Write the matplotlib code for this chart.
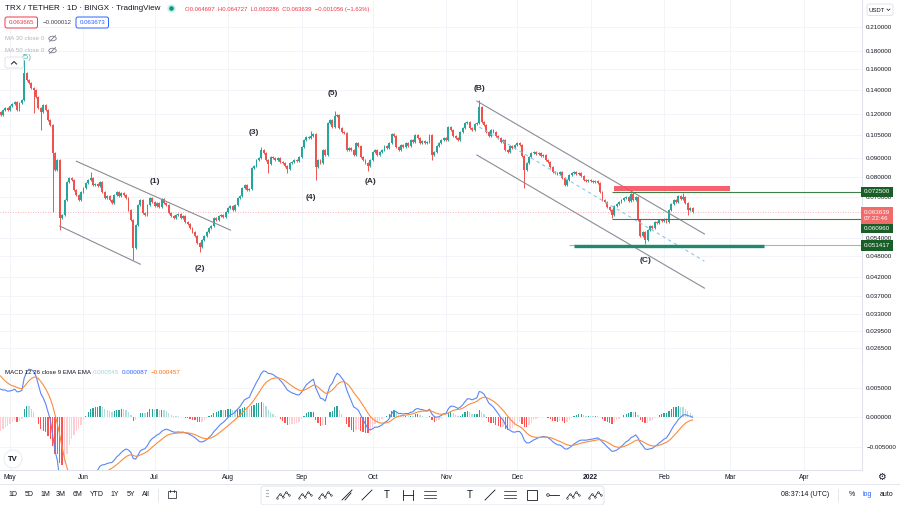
import numpy as np
import matplotlib
matplotlib.use("Agg")
import matplotlib.pyplot as plt
import matplotlib.dates as mdates
from matplotlib.ticker import FuncFormatter, NullLocator
from matplotlib.patches import FancyBboxPatch, Rectangle, Ellipse, Circle

plt.rcParams['font.family'] = ['Liberation Sans', 'DejaVu Sans']

# ---- data (TRX/USDT daily, BINGX) ----
first_day = '2021-04-27'
first_open = 0.1213
closes = [
    .1190, .1229, .1246, .1229, .1262, .1278, .1294, .1229, .1286, .1311,
    .1561, .1492, .1463, .1417, .1399, .1337, .1246, .1213, .1270, .1229,
    .1153, .1116, .0932, .0835, .0890, .0613, .0624, .0688, .0773, .0793,
    .0783, .0734, .0710, .0688, .0725, .0744, .0768, .0783, .0793, .0758,
    .0763, .0753, .0773, .0725, .0697, .0706, .0688, .0675, .0710, .0725,
    .0706, .0720, .0710, .0697, .0645, .0605, .0505, .0585, .0666, .0688,
    .0633, .0624, .0666, .0697, .0679, .0662, .0675, .0658, .0692, .0675,
    .0666, .0633, .0620, .0613, .0624, .0628, .0613, .0620, .0597, .0589,
    .0574, .0560, .0546, .0521, .0508, .0531, .0546, .0560, .0574, .0582,
    .0613, .0605, .0620, .0624, .0616, .0637, .0653, .0662, .0645, .0666,
    .0697, .0706, .0744, .0758, .0734, .0739, .0846, .0856, .0890, .0902,
    .0950, .0932, .0890, .0868, .0908, .0902, .0890, .0902, .0879, .0873,
    .0856, .0840, .0873, .0879, .0890, .0884, .0908, .0968, .1013, .1033,
    .1026, .1040, .1053, .0851, .0890, .0873, .0950, .0920, .1131, .1153,
    .1102, .1183, .1190, .1095, .1067, .1060, .0950, .0962, .0950, .0920,
    .0994, .0975, .0908, .0890, .0873, .0856, .0890, .0938, .0950, .0920,
    .0938, .0950, .0975, .0962, .0994, .1053, .1040, .0968, .0950, .0981,
    .0968, .0994, .0975, .1013, .1000, .1046, .1026, .0994, .1006, .0994,
    .1000, .1046, .0920, .0938, .0975, .0994, .1013, .1026, .1013, .1102,
    .1081, .1040, .1026, .1013, .1067, .1095, .1131, .1138, .1095, .1081,
    .1124, .1131, .1254, .1138, .1116, .1067, .1040, .1081, .1067, .1040,
    .1026, .1000, .1013, .0950, .0938, .0975, .0962, .0981, .0994, .0981,
    .0914, .0835, .0873, .0908, .0932, .0938, .0926, .0932, .0914, .0920,
    .0890, .0879, .0851, .0824, .0819, .0814, .0824, .0793, .0758, .0783,
    .0808, .0819, .0824, .0814, .0819, .0803, .0783, .0778, .0783, .0778,
    .0773, .0778, .0768, .0725, .0688, .0679, .0658, .0645, .0624, .0662,
    .0670, .0679, .0688, .0697, .0701, .0684, .0715, .0688, .0701, .0605,
    .0546, .0560, .0531, .0567, .0582, .0574, .0597, .0593, .0605, .0601,
    .0609, .0597, .0645, .0670, .0688, .0679, .0706, .0692, .0701, .0675,
    .0645, .0653, .063639,
]
wick_highs = {'2021-05-07': 0.1697, '2021-06-04': 0.0824, '2021-08-15': 0.0968,
              '2021-09-05': 0.1074, '2021-09-15': 0.1221, '2021-11-15': 0.1311,
              '2022-01-19': 0.0725, '2022-02-09': 0.0720}
wick_lows = {'2021-05-11': 0.1205, '2021-05-14': 0.1081, '2021-05-19': 0.0637,
             '2021-05-22': 0.0567, '2021-06-22': 0.0467, '2021-07-20': 0.0492,
             '2021-08-18': 0.0819, '2021-08-26': 0.0819, '2021-09-07': 0.0783,
             '2021-09-29': 0.0830, '2021-10-26': 0.0890, '2021-12-04': 0.0744,
             '2022-01-10': 0.0613, '2022-01-24': 0.0518, '2022-02-11': 0.0624}

# MACD state at the left edge of the screenshot (fast ema, slow ema, signal)
seed_fast, seed_slow, seed_signal = 0.1203, 0.1150, 0.0076

price_ticks = [0.21, 0.18, 0.16, 0.14, 0.12, 0.105, 0.09, 0.08, 0.07, 0.054,
               0.048, 0.042, 0.037, 0.033, 0.0295, 0.0265]
macd_ticks = [0.005, 0.0, -0.005]
month_starts = ['2021-05-01', '2021-06-01', '2021-07-01', '2021-08-01', '2021-09-01',
                '2021-10-01', '2021-11-01', '2021-12-01', '2022-01-01', '2022-02-01',
                '2022-03-01', '2022-04-01']
month_labels = ['May', 'Jun', 'Jul', 'Aug', 'Sep', 'Oct', 'Nov', 'Dec', '2022', 'Feb', 'Mar', 'Apr']

# drawings on the chart
trend_lines = [  # (date0, price0, date1, price1)
    ('2021-05-29', 0.0884, '2021-08-02', 0.0567),
    ('2021-05-22', 0.0582, '2021-06-25', 0.0455),
    ('2021-11-14', 0.1303, '2022-02-18', 0.0553),
    ('2021-11-14', 0.0920, '2022-02-18', 0.0390),
]
mid_line = ('2021-11-15', 0.1102, '2022-02-18', 0.0464)
resist_zone = ('2022-01-11', '2022-03-01', 0.0729, 0.0753)
level_upper = 0.0725
level_mid = 0.06096
level_support = 0.051417
support_bar = ('2021-12-25', '2022-03-15', 0.0511)
last_price = 0.063639

wave_labels = [('(1)', '2021-07-01', 0.0778), ('(2)', '2021-07-20', 0.0444),
               ('(3)', '2021-08-12', 0.1067), ('(4)', '2021-09-05', 0.0701),
               ('(5)', '2021-09-14', 0.1372), ('(A)', '2021-09-30', 0.0778),
               ('(B)', '2021-11-15', 0.1417), ('(C)', '2022-01-24', 0.0467)]

# ---- derived series ----
closes = np.array(closes)
dates = mdates.datestr2num(first_day) + np.arange(len(closes))
opens = np.concatenate([[first_open], closes[:-1]])
wick_pad = 0.007
highs = np.maximum(opens, closes) * (1 + wick_pad)
lows = np.minimum(opens, closes) * (1 - wick_pad)
for d, v in wick_highs.items():
    highs[int(mdates.datestr2num(d) - dates[0])] = v
for d, v in wick_lows.items():
    lows[int(mdates.datestr2num(d) - dates[0])] = v


def ema(values, span, seed):
    k = 2.0 / (span + 1)
    out, cur = [], seed
    for v in values:
        cur = cur + k * (v - cur)
        out.append(cur)
    return np.array(out)


macd = ema(closes, 12, seed_fast) - ema(closes, 26, seed_slow)
signal = ema(macd, 9, seed_signal)
hist = macd - signal

UP, DOWN = '#26a69a', '#ef5350'
TXT = '#131722'
GRID = '#f0f3fa'
BORDER = '#e0e3eb'

W, H = 900, 505
fig = plt.figure(figsize=(9, 5.05), dpi=100)


def frac(x0, y0, x1, y1):
    return [x0 / W, 1 - y1 / H, (x1 - x0) / W, (y1 - y0) / H]


ax = fig.add_axes(frac(0, 0, 862, 362))
mx = fig.add_axes(frac(0, 362, 862, 470), sharex=ax)
ov = fig.add_axes([0, 0, 1, 1], zorder=10)
ov.set_xlim(0, W)
ov.set_ylim(H, 0)
ov.axis('off')
ov.patch.set_alpha(0)

base = mdates.datestr2num('2021-05-01')
ax.set_xlim(base - 4.22, base + 359.5)

# ---- price pane ----
ax.set_yscale('log')
ax.set_ylim(0.02422, 0.2500)
ax.set_yticks(price_ticks)
ax.yaxis.set_minor_locator(NullLocator())
ax.yaxis.set_major_formatter(FuncFormatter(lambda v, p: f'{v:.6f}'))
ax.yaxis.tick_right()
ax.tick_params(axis='y', length=0, pad=3, labelsize=4.5, labelcolor=TXT)
ax.tick_params(axis='x', bottom=False, labelbottom=False)
ax.set_xticks(mdates.datestr2num(month_starts))
ax.grid(True, color=GRID, lw=0.6)
ax.set_axisbelow(True)
for s in ['top', 'left']:
    ax.spines[s].set_visible(False)
ax.spines['right'].set_color(BORDER)
ax.spines['bottom'].set_color(BORDER)

up = closes >= opens
cols = np.where(up, UP, DOWN)
ax.vlines(dates, lows, highs, colors=cols, lw=0.7, zorder=3)
body_lo = np.minimum(opens, closes)
body_h = np.maximum(np.abs(closes - opens), body_lo * 0.002)
ax.bar(dates, body_h, bottom=body_lo, width=0.8, color=cols, lw=0, zorder=4)

for d0, p0, d1, p1 in trend_lines:
    ax.plot(mdates.datestr2num([d0, d1]), [p0, p1], color='#8a8d96', lw=0.8, zorder=5)
ax.plot(mdates.datestr2num([mid_line[0], mid_line[2]]), [mid_line[1], mid_line[3]],
        color='#8cc4f0', lw=0.8, ls=(0, (3, 3)), zorder=5)

z0, z1 = mdates.datestr2num([resist_zone[0], resist_zone[1]])
ax.add_patch(Rectangle((z0, resist_zone[2]), z1 - z0, resist_zone[3] - resist_zone[2],
                       fc='#f5505d', ec='none', alpha=0.9, zorder=5))
x_lv = mdates.datestr2num('2022-01-10')
ax.hlines([level_upper, level_mid], x_lv, base + 359.5, color='#3d7f44', lw=0.8, zorder=5)
ax.hlines(level_support, mdates.datestr2num('2021-12-23'), base + 359.5,
          color='#98c4a2', lw=0.8, zorder=5)
b0, b1 = mdates.datestr2num([support_bar[0], support_bar[1]])
ax.hlines(support_bar[2], b0, b1, color='#1e8a6f', lw=2.4, zorder=5)
ax.axhline(last_price, color='#f23645', lw=0.6, ls=(0, (1, 2)), alpha=0.5, zorder=2)

for txt, d, p in wave_labels:
    ax.text(mdates.datestr2num(d), p, txt, ha='center', va='center', fontsize=6,
            fontweight='bold', color='#2a2e39', zorder=6)
# teal wave mark at the May top, half hidden behind the legend
ax.text(mdates.datestr2num('2021-05-08'), 0.1722, '(5)', ha='center', va='center',
        fontsize=5.8, color='#4db6ac', zorder=6)


def axis_tag(a, price, text, fc, dy=0.0):
    a.annotate(text, xy=(1, price), xycoords=('axes fraction', 'data'),
               xytext=(1.6, dy), textcoords='offset points', ha='left', va='center',
               fontsize=4.5, color='white', linespacing=1.3, zorder=20,
               annotation_clip=False,
               bbox=dict(boxstyle='square,pad=0.45', fc=fc, ec='none'))


axis_tag(ax, level_upper, f'{level_upper:.6f}', '#1a5e27')
axis_tag(ax, level_mid, f'{level_mid:.6f}', '#1a5e27', dy=-6.7)
axis_tag(ax, level_support, f'{level_support:.6f}', '#1a5e27')
axis_tag(ax, last_price, f'{last_price:.6f}\n07:22:46', '#f26b6b', dy=-2.2)

# ---- MACD pane ----
mx.set_ylim(-0.0089, 0.0094)
mx.set_yticks(macd_ticks)
mx.yaxis.set_major_formatter(FuncFormatter(lambda v, p: f'{v:.6f}'.replace('-', '\u2212')))
mx.yaxis.tick_right()
mx.tick_params(axis='y', length=0, pad=3, labelsize=4.5, labelcolor=TXT)
mx.set_xticks(mdates.datestr2num(month_starts))
mx.set_xticklabels(month_labels)
mx.tick_params(axis='x', length=0, pad=3, labelsize=4.9, labelcolor=TXT)
mx.get_xticklabels()[8].set_fontweight('bold')
mx.grid(True, color=GRID, lw=0.6)
mx.set_axisbelow(True)
for s in ['top', 'left']:
    mx.spines[s].set_visible(False)
mx.spines['right'].set_color(BORDER)
mx.spines['bottom'].set_color(BORDER)

prev = np.concatenate([[hist[0]], hist[:-1]])
hcols = np.where(hist >= 0, np.where(hist >= prev, '#26a69a', '#b2dfdb'),
                 np.where(hist < prev, '#ff5252', '#ffcdd2'))
mx.bar(dates, hist, width=0.55, color=hcols, lw=0, zorder=3)
mx.plot(dates, macd, color='#5b86f5', lw=0.8, zorder=4)
mx.plot(dates, signal, color='#fb8c3c', lw=0.8, zorder=4)

# ---- header / legends (pixel coordinates) ----
ov.text(5, 9, 'TRX / TETHER \u00b7 1D \u00b7 BINGX \u00b7 TradingView', fontsize=5.8,
        color=TXT, va='center', ha='left')
ov.add_patch(Circle((171.5, 8.5), 4.2, fc='#cdeee8', ec='none'))
ov.add_patch(Circle((171.5, 8.5), 2.3, fc='#089981', ec='none'))
ov.text(185, 9.5, 'O0.064697  H0.064727  L0.063286  C0.063639  \u22120.001056 (\u22121.63%)',
        fontsize=4.3, color='#f23645', va='center', ha='left')
ov.add_patch(FancyBboxPatch((5, 17), 32.5, 11, boxstyle='round,pad=0,rounding_size=2',
                            fc='white', ec='#f23645', lw=0.7))
ov.text(21.2, 22.7, '0.063665', fontsize=4.4, color='#f23645', ha='center', va='center')
ov.text(43, 22.7, '\u22120.000012', fontsize=4.4, color='#434651', ha='left', va='center')
ov.add_patch(FancyBboxPatch((76, 17), 32.5, 11, boxstyle='round,pad=0,rounding_size=2',
                            fc='white', ec='#2962ff', lw=0.7))
ov.text(92.2, 22.7, '0.063673', fontsize=4.4, color='#2962ff', ha='center', va='center')
for yy, lbl in [(38.5, 'MA 30 close 0'), (50.5, 'MA 50 close 0')]:
    ov.text(5, yy, lbl, fontsize=4.5, color='#b2b5be', ha='left', va='center')
    ov.add_patch(Ellipse((52.5, yy), 7.5, 4.5, fc='none', ec='#787b86', lw=0.6))
    ov.plot([49.5, 55.5], [yy + 3, yy - 3], color='#787b86', lw=0.6)
ov.add_patch(FancyBboxPatch((5, 57), 18.5, 11, boxstyle='round,pad=0,rounding_size=2',
                            fc='white', ec=BORDER, lw=0.7))
ov.plot([11.5, 14, 16.5], [64, 61.5, 64], color=TXT, lw=0.7)
ov.add_patch(FancyBboxPatch((867, 4), 26, 11.5, boxstyle='round,pad=0,rounding_size=2',
                            fc='white', ec=BORDER, lw=0.7))
ov.text(876.5, 10, 'USDT', fontsize=4.3, color=TXT, ha='center', va='center')
ov.plot([887, 888.5, 890], [9, 10.5, 9], color=TXT, lw=0.5)

ov.text(5, 373, 'MACD 12 26 close 9 EMA EMA', fontsize=4.4, color=TXT, ha='left', va='center')
ov.text(93, 373, '0.000545', fontsize=4.5, color='#9fd8d2', ha='left', va='center')
ov.text(122, 373, '0.000087', fontsize=4.5, color='#2962ff', ha='left', va='center')
ov.text(151, 373, '\u22120.000457', fontsize=4.5, color='#ff6d00', ha='left', va='center')
ov.add_patch(Circle((13, 459), 9, fc='white', ec='#e6e8ee', lw=0.6))
ov.text(13, 459.5, 'TV', fontsize=5.5, fontweight='bold', color=TXT, ha='center', va='center')
ov.text(881, 477, '\u2699', fontsize=7, color=TXT, ha='center', va='center',
        family='DejaVu Sans')

# ---- bottom toolbar ----
ov.plot([0, W], [484, 484], color=BORDER, lw=0.6)
for x, lbl in [(13, '1D'), (29, '5D'), (45, '1M'), (61, '3M'), (78, '6M'), (97, 'YTD'),
               (115, '1Y'), (131, '5Y'), (146, 'All')]:
    ov.text(x, 495, lbl, fontsize=5, color=TXT, ha='center', va='center')
ov.plot([158, 158], [489, 501], color=BORDER, lw=0.6)
ov.add_patch(Rectangle((168, 491), 8, 7, fc='none', ec=TXT, lw=0.5))
ov.plot([170, 170], [489.5, 492], color=TXT, lw=0.5)
ov.plot([174, 174], [489.5, 492], color=TXT, lw=0.5)
ov.add_patch(FancyBboxPatch((261, 486), 343, 19, boxstyle='round,pad=0,rounding_size=3',
                            fc='white', ec=BORDER, lw=0.7))
for k in range(3):
    ov.plot([266, 268], [490 + 3 * k, 490 + 3 * k], color='#b2b5be', lw=0.8)


def wave_icon(cx, cy):
    xs = np.array([-6, -3, 0, 3, 6]) + cx
    ys = np.array([3, -1, 2, -3, 0]) + cy
    ov.plot(xs, ys, color=TXT, lw=0.5)
    ov.scatter(xs, ys, s=1.2, facecolors='white', edgecolors=TXT, linewidths=0.4, zorder=12)


for cx in [283, 305, 325, 573, 595]:
    wave_icon(cx, 495)
for cx in [347, 367, 490]:
    ov.plot([cx - 5, cx + 5], [500, 490], color=TXT, lw=0.6)
ov.plot([345, 351], [500, 493], color=TXT, lw=0.6)
ov.text(387, 495, 'T', fontsize=7, color=TXT, ha='center', va='center')
ov.text(470, 495, 'T', fontsize=7, color=TXT, ha='center', va='center')
ov.plot([403, 403], [490, 500], color=TXT, lw=0.6)
ov.plot([413, 413], [490, 500], color=TXT, lw=0.6)
ov.plot([403, 413], [495, 495], color=TXT, lw=0.6)
for cx in [430, 510]:
    for k in range(3):
        ov.plot([cx - 6, cx + 6], [491 + 3.5 * k, 491 + 3.5 * k], color=TXT, lw=0.5)
ov.add_patch(Rectangle((527, 490), 10, 10, fc='none', ec=TXT, lw=0.6))
ov.plot([547, 559], [495, 495], color=TXT, lw=0.6)
ov.add_patch(Circle((548, 495), 1.3, fc='white', ec=TXT, lw=0.5, zorder=12))
ov.text(805, 495, '08:37:14 (UTC)', fontsize=5, color=TXT, ha='center', va='center')
ov.plot([838, 838], [489, 501], color=BORDER, lw=0.6)
ov.text(852, 495, '%', fontsize=5, color=TXT, ha='center', va='center')
ov.text(867, 495, 'log', fontsize=5, color='#2962ff', ha='center', va='center')
ov.text(887, 495, 'auto', fontsize=5, color=TXT, ha='center', va='center')

fig.savefig('out.png', dpi=100, facecolor='white')
